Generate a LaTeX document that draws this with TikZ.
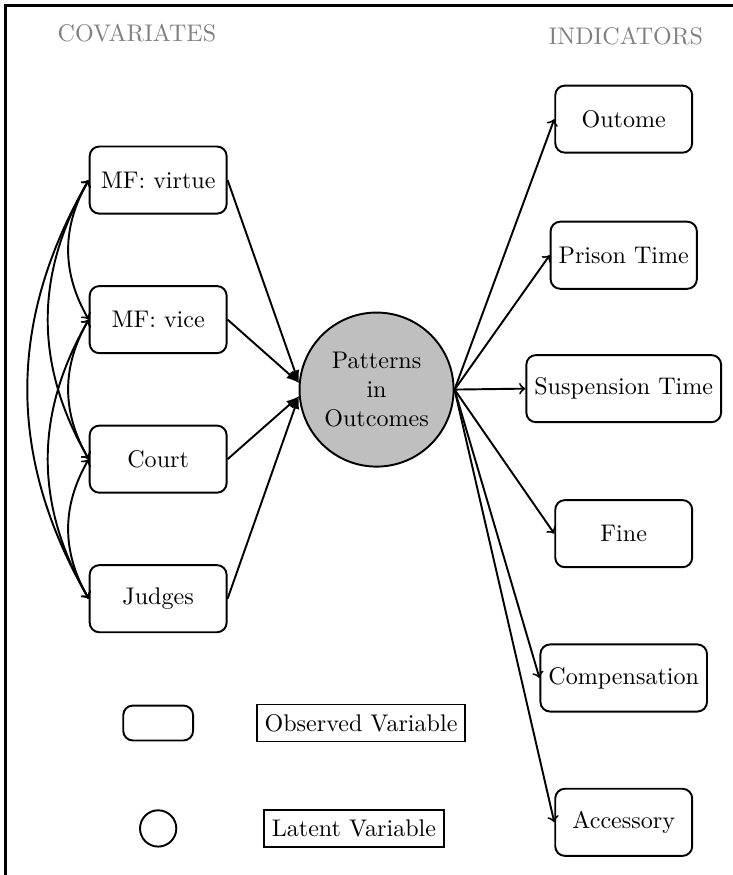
\documentclass[tikz,border=0pt]{standalone}
\usepackage{tikz}
\usetikzlibrary{positioning, arrows}

\begin{document}
\begin{tikzpicture}[node distance=1.03cm, thick, -latex,
    obs/.style={rectangle, rounded corners, draw, minimum width=2cm, minimum height=0.98cm},
    lat/.style={circle, draw, fill=lightgray, minimum size=2.25cm, align=center},
    head/.style={text=gray},
    tag/.style={rectangle, draw, minimum height=0.54cm},
    corr/.style={<->, bend right=30}]
            \useasboundingbox (0,0) rectangle (10.70,-12.78);
            \draw[line width=1.2pt, -] (0.08,-12.78) -- (0.08,-0.08) -- (10.70,-0.08);

            \node[head] (covh) at (2.00,-0.48) {COVARIATES};
            \node[head] (indh) at (9.14,-0.53) {INDICATORS};

            \node[obs] (virtue) at (2.31,-2.63) {MF: virtue};
            \node[obs] (vice) [below=of virtue] {MF: vice};
            \node[obs] (court) [below=of vice] {Court};
            \node[obs] (judges) [below=of court] {Judges};

            \node[lat] (pat) at (5.50,-5.69) {Patterns\\in\\Outcomes};

            \node[obs] (outome) at (9.11,-1.74) {Outome};
            \node[obs] (prison) [below=0.98cm of outome] {Prison Time};
            \node[obs] (susp) [below=0.94cm of prison] {Suspension Time};
            \node[obs] (fine) [below=1.11cm of susp] {Fine};
            \node[obs] (comp) [below=1.10cm of fine] {Compensation};
            \node[obs] (acc) [below=1.10cm of comp] {Accessory};

            \node[obs, minimum width=1.02cm, minimum height=0.51cm, inner sep=0pt] (obskey) at (2.31,-10.56) {};
            \node[tag] (obstag) [right=0.90cm of obskey] {Observed Variable};
            \node[circle, draw, minimum size=0.53cm, inner sep=0pt] (latkey) at (2.31,-12.10) {};
            \node[tag] (lattag) [right=1.25cm of latkey] {Latent Variable};

            \path (virtue.east) edge (pat.175);
            \path (vice.east) edge (pat.175);
            \path (court.east) edge (pat.185);
            \path (judges.east) edge (pat.185);

            \path[->] (pat.east) edge (outome.west);
            \path[->] (pat.east) edge (prison.west);
            \path[->] (pat.east) edge (susp.west);
            \path[->] (pat.east) edge (fine.west);
            \path[->] (pat.east) edge (comp.west);
            \path[->] (pat.east) edge (acc.west);

            \path (virtue.west) edge[corr] (vice.west);
            \path (virtue.west) edge[corr] (court.west);
            \path (virtue.west) edge[corr] (judges.west);
            \path (vice.west) edge[corr] (court.west);
            \path (vice.west) edge[corr] (judges.west);
            \path (court.west) edge[corr] (judges.west);
        \end{tikzpicture}
\end{document}
